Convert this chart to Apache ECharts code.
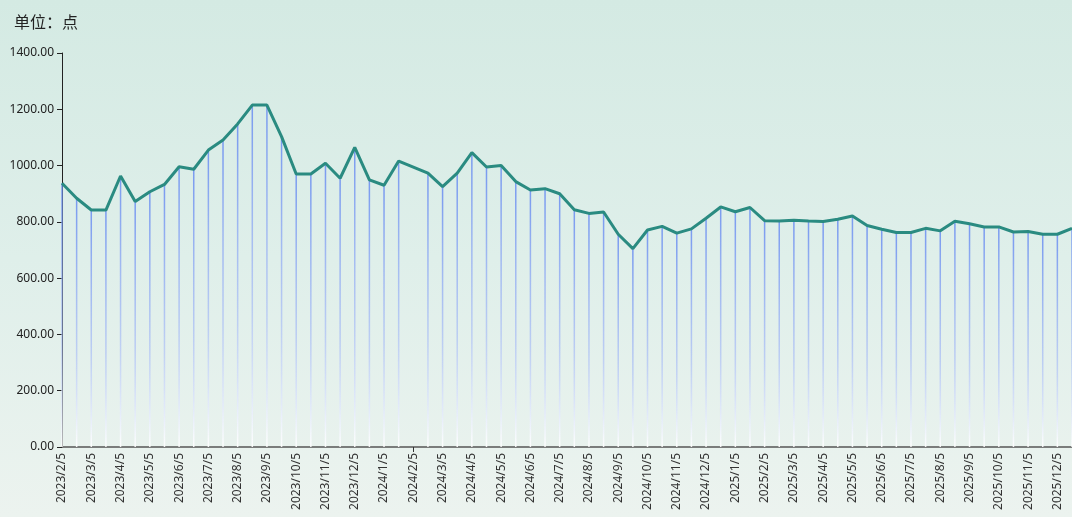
<!DOCTYPE html>
<html>
<head>
<meta charset="utf-8">
<script src="https://cdn.jsdelivr.net/npm/echarts@6/dist/echarts.min.js"></script>
<style>
  html, body {
    margin: 0;
    padding: 0;
    width: 1072px;
    height: 517px;
    background: linear-gradient(180deg, #d4eae3 0%, #dfefea 50%, #ecf3ef 100%);
  }
  #chart {
    width: 1072px;
    height: 517px;
  }
</style>
</head>
<body>
<div id="chart"></div>
<script>
// dates: 5th and 20th of each month
const categories = [
  '2023/2/5', '2023/2/20', '2023/3/5', '2023/3/20', '2023/4/5', '2023/4/20',
  '2023/5/5', '2023/5/20', '2023/6/5', '2023/6/20', '2023/7/5', '2023/7/20',
  '2023/8/5', '2023/8/20', '2023/9/5', '2023/9/20', '2023/10/5', '2023/10/20',
  '2023/11/5', '2023/11/20', '2023/12/5', '2023/12/20', '2024/1/5', '2024/1/20',
  '2024/2/5', '2024/2/20', '2024/3/5', '2024/3/20', '2024/4/5', '2024/4/20',
  '2024/5/5', '2024/5/20', '2024/6/5', '2024/6/20', '2024/7/5', '2024/7/20',
  '2024/8/5', '2024/8/20', '2024/9/5', '2024/9/20', '2024/10/5', '2024/10/20',
  '2024/11/5', '2024/11/20', '2024/12/5', '2024/12/20', '2025/1/5', '2025/1/20',
  '2025/2/5', '2025/2/20', '2025/3/5', '2025/3/20', '2025/4/5', '2025/4/20',
  '2025/5/5', '2025/5/20', '2025/6/5', '2025/6/20', '2025/7/5', '2025/7/20',
  '2025/8/5', '2025/8/20', '2025/9/5', '2025/9/20', '2025/10/5', '2025/10/20',
  '2025/11/5', '2025/11/20', '2025/12/5', '2025/12/20'
]

const indexValues = [
  937, 884, 842, 842, 963, 872, 907, 933, 996, 987,
  1055, 1091, 1148, 1215, 1215, 1103, 970, 970, 1008, 955,
  1065, 949, 930, 1016, null, 973, 925, 973, 1046, 995,
  1000, 943, 913, 918, 900, 843, 830, 835, 756, 705,
  771, 784, 760, 775, 813, 853, 836, 851, 804, 803,
  806, 803, 801, 809, 821, 787, 774, 762, 762, 777,
  768, 802, 793, 782, 782, 764, 766, 756, 756, 777
]

const yTicks = { min: 0, max: 1400, interval: 200 }
const unitText = '单位：点'

const chart = echarts.init(document.getElementById('chart'))

const option = {
  backgroundColor: 'transparent',
  textStyle: {
    fontFamily: '"Noto Sans", "Noto Sans CJK SC", sans-serif'
  },
  title: {
    text: unitText,
    left: 9,
    top: 9,
    textStyle: {
      fontSize: 16,
      fontWeight: 'normal',
      color: '#222',
      fontFamily: '"Noto Sans CJK SC", sans-serif'
    }
  },
  grid: {
    left: 62,
    right: 0,
    top: 53,
    bottom: 70
  },
  xAxis: {
    type: 'category',
    data: categories,
    boundaryGap: false,
    axisLine: {
      lineStyle: { color: '#555', width: 1.5 }
    },
    axisTick: {
      show: true,
      interval: (i) => i === 24,
      lineStyle: { color: '#333' }
    },
    axisLabel: {
      interval: 1,
      rotate: 90,
      fontSize: 12,
      color: '#333',
      margin: 6
    }
  },
  yAxis: {
    type: 'value',
    min: yTicks.min,
    max: yTicks.max,
    interval: yTicks.interval,
    axisLine: {
      show: true,
      lineStyle: { color: '#222' }
    },
    axisTick: {
      show: true,
      lineStyle: { color: '#222' }
    },
    splitLine: { show: false },
    axisLabel: {
      fontSize: 12,
      color: '#222',
      formatter: (v) => v.toFixed(2)
    }
  },
  series: [
    {
      type: 'bar',
      data: indexValues,
      barWidth: 1.5,
      silent: true,
      itemStyle: {
        color: new echarts.graphic.LinearGradient(0, 0, 0, 1, [
          { offset: 0, color: 'rgba(110,145,240,0.9)' },
          { offset: 0.6, color: 'rgba(170,190,245,0.7)' },
          { offset: 1, color: 'rgba(255,255,255,0.9)' }
        ])
      }
    },
    {
      type: 'line',
      data: indexValues,
      connectNulls: true,
      symbol: 'none',
      z: 5,
      lineStyle: {
        color: '#2a8b81',
        width: 3
      }
    }
  ]
}

chart.setOption(option)
</script>
</body>
</html>
